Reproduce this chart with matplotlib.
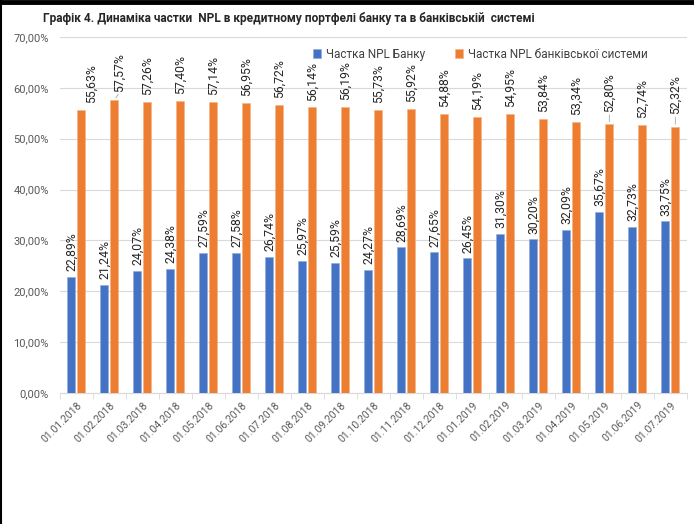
import matplotlib
matplotlib.use("Agg")
import matplotlib.pyplot as plt
import numpy as np

plt.rcParams['font.family'] = ['Roboto', 'DejaVu Sans']

# data
dates = ["01.01.2018", "01.02.2018", "01.03.2018", "01.04.2018", "01.05.2018",
         "01.06.2018", "01.07.2018", "01.08.2018", "01.09.2018", "01.10.2018",
         "01.11.2018", "01.12.2018", "01.01.2019", "01.02.2019", "01.03.2019",
         "01.04.2019", "01.05.2019", "01.06.2019", "01.07.2019"]
bank = [22.89, 21.24, 24.07, 24.38, 27.59, 27.58, 26.74, 25.97, 25.59, 24.27,
        28.69, 27.65, 26.45, 31.30, 30.20, 32.09, 35.67, 32.73, 33.75]
system = [55.63, 57.57, 57.26, 57.40, 57.14, 56.95, 56.72, 56.14, 56.19, 55.73,
          55.92, 54.88, 54.19, 54.95, 53.84, 53.34, 52.80, 52.74, 52.32]
series_names = ["Частка NPL Банку", "Частка NPL банківської системи"]
title = "Графік 4. Динаміка частки  NPL в кредитному портфелі банку та в банківській  системі"

blue = "#4472C4"
orange = "#ED7D31"

fig = plt.figure(figsize=(6.94, 5.24), dpi=100)
ax = fig.add_axes([0.0865, 0.25, 0.9035, 0.6794])

x = np.arange(len(dates))
w = 0.245
ax.bar(x - 0.155, bank, w, color=blue, edgecolor="#8faadc", linewidth=0.4,
       label=series_names[0], zorder=3)
ax.bar(x + 0.145, system, w, color=orange, edgecolor="#f4b183", linewidth=0.4,
       label=series_names[1], zorder=3)

def fmt(v):
    return ("%.2f%%" % v).replace(".", ",")

for i, v in enumerate(bank):
    ax.annotate(fmt(v), (x[i] - 0.155, v), xytext=(0, 4), textcoords="offset points",
                rotation=90, ha="center", va="bottom", fontsize=8.8, color="#262626")

# some orange labels were moved by hand in the original
shifts = {0: (7, 5), 1: (4, 6), 16: (0, 9), 18: (0, 9)}
for i, v in enumerate(system):
    dx, dy = shifts.get(i, (0, 5))
    if i in (1, 16, 18):
        ax.annotate("", (x[i] + 0.145, v), xytext=(dx, dy), textcoords="offset points",
                    arrowprops=dict(arrowstyle="-", color="#a6a6a6", lw=0.6))
    ax.annotate(fmt(v), (x[i] + 0.145, v), xytext=(dx, dy), textcoords="offset points",
                rotation=90, ha="center", va="bottom", fontsize=8.8, color="#262626")

ax.set_xlim(-0.5, len(dates) - 0.5)
ax.set_ylim(0, 70)
ax.set_yticks(np.arange(0, 71, 10))
ax.set_yticklabels([("%.2f%%" % t).replace(".", ",") for t in np.arange(0, 71, 10)],
                   fontsize=8, color="#595959")
ax.set_xticks(x)
ax.set_xticklabels(dates, rotation=45, ha="right", rotation_mode="anchor",
                   fontsize=7.5, color="#595959")
ax.tick_params(axis="x", which="major", length=0, pad=5)
ax.set_xticks(np.arange(-0.5, len(dates), 1), minor=True)
ax.tick_params(axis="x", which="minor", length=4, color="#d9d9d9")
ax.tick_params(axis="y", length=0, pad=8)

ax.grid(axis="y", color="#d9d9d9", linewidth=0.8, zorder=0)
for s in ["top", "right", "left"]:
    ax.spines[s].set_visible(False)
ax.spines["bottom"].set_color("#d9d9d9")

ax.legend(loc="upper center", bbox_to_anchor=(0.67, 1.0), ncol=2, frameon=False,
          fontsize=8.5, handlelength=0.7, handleheight=0.7, columnspacing=2.5,
          handletextpad=0.4, labelcolor="#404040")

fig.text(0.062, 0.964, title, fontsize=8.6, fontweight="bold", color="#262626",
         ha="left", va="center")

# black frame on top and left edge
fig.add_artist(plt.Line2D([0, 1], [0.996, 0.996], color="black", lw=3.5,
                          transform=fig.transFigure))
fig.add_artist(plt.Line2D([0.0015, 0.0015], [0, 1], color="black", lw=1.5,
                          transform=fig.transFigure))

fig.savefig("out.png", dpi=100)
